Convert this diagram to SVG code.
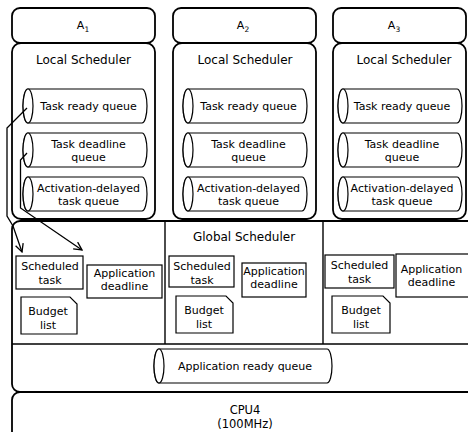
<svg xmlns="http://www.w3.org/2000/svg" width="468" height="432" viewBox="0 0 468 432">
<style>
.box{fill:#fff;stroke:#000;stroke-width:1.8}
.in{fill:#fff;stroke:#000;stroke-width:1.2}
.ln{fill:none;stroke:#000;stroke-width:1.4}
.cn{fill:none;stroke:#000;stroke-width:1.3}
text{font-family:"DejaVu Sans",Verdana,sans-serif;fill:#000;text-anchor:middle}
.h{font-size:12px}
.s{font-size:11px}
.c{font-size:11.5px}
.sub{font-size:7.5px}
</style>
<defs>
<g id="cyl">
<path d="M5,0 H119 A5,17 0 0 1 119,34 H5 A5,17 0 0 1 5,0 Z" class="in"/>
<ellipse cx="5" cy="17" rx="5" ry="17" class="in"/>
</g>
<marker id="arr" markerWidth="10" markerHeight="10" refX="9" refY="5" orient="auto" markerUnits="userSpaceOnUse">
<path d="M1,1 L9,5 L1,9" fill="none" stroke="#000" stroke-width="1.3"/>
</marker>
</defs>
<rect width="468" height="432" fill="#fff"/>

<g id="lower">
<rect class="box" x="12" y="221" width="466" height="171" rx="8"/>
<line class="ln" x1="165" y1="221" x2="165" y2="344"/>
<line class="ln" x1="323" y1="221" x2="323" y2="344"/>
<line class="ln" x1="12" y1="344" x2="468" y2="344"/>
</g>

<g id="cpu">
<rect class="box" x="12" y="392" width="466" height="50" rx="8"/>
<text class="c" x="245" y="414">CPU4</text>
<text class="c" x="245" y="428">(100MHz)</text>
</g>

<g id="A1">
<rect class="box" x="12" y="8" width="143" height="35" rx="8"/>
<text class="s" x="83" y="29">A<tspan class="sub" dy="3">1</tspan></text>
<rect class="box" x="12" y="43" width="143" height="176" rx="9"/>
<text class="h" x="83.5" y="64">Local Scheduler</text>
<use href="#cyl" x="23" y="89"/>
<text class="s" x="88.5" y="110">Task ready queue</text>
<use href="#cyl" x="23" y="133"/>
<text class="s" x="88.5" y="148">Task deadline</text>
<text class="s" x="88.5" y="161">queue</text>
<use href="#cyl" x="23" y="177"/>
<text class="s" x="88.5" y="192">Activation-delayed</text>
<text class="s" x="88.5" y="205">task queue</text>
</g>

<g id="A2">
<rect class="box" x="173" y="8" width="143" height="35" rx="8"/>
<text class="s" x="243" y="29">A<tspan class="sub" dy="3">2</tspan></text>
<rect class="box" x="173" y="43" width="143" height="176" rx="9"/>
<text class="h" x="245" y="64">Local Scheduler</text>
<use href="#cyl" x="183" y="89"/>
<text class="s" x="248.5" y="110">Task ready queue</text>
<use href="#cyl" x="183" y="133"/>
<text class="s" x="248.5" y="148">Task deadline</text>
<text class="s" x="248.5" y="161">queue</text>
<use href="#cyl" x="183" y="177"/>
<text class="s" x="248.5" y="192">Activation-delayed</text>
<text class="s" x="248.5" y="205">task queue</text>
</g>

<g id="A3">
<rect class="box" x="333" y="8" width="133" height="35" rx="8"/>
<text class="s" x="394" y="29">A<tspan class="sub" dy="3">3</tspan></text>
<rect class="box" x="333" y="43" width="133" height="176" rx="9"/>
<text class="h" x="404" y="64">Local Scheduler</text>
<use href="#cyl" x="338" y="89"/>
<text class="s" x="402" y="110">Task ready queue</text>
<use href="#cyl" x="338" y="133"/>
<text class="s" x="402" y="148">Task deadline</text>
<text class="s" x="402" y="161">queue</text>
<use href="#cyl" x="338" y="177"/>
<text class="s" x="402" y="192">Activation-delayed</text>
<text class="s" x="402" y="205">task queue</text>
</g>

<g id="global1">
<rect class="in" x="16" y="256" width="67" height="33"/>
<text class="s" x="50" y="270">Scheduled</text>
<text class="s" x="50" y="284">task</text>
<rect class="in" x="87" y="265" width="75" height="33"/>
<text class="s" x="124.5" y="277">Application</text>
<text class="s" x="124.5" y="290">deadline</text>
<path class="in" d="M21,297 H70 L77,304 V334 H21 Z"/>
<text class="s" x="48" y="315">Budget</text>
<text class="s" x="48" y="329">list</text>
</g>

<g id="global2">
<text class="h" x="244" y="241">Global Scheduler</text>
<rect class="in" x="169" y="256" width="65" height="31"/>
<text class="s" x="202" y="270">Scheduled</text>
<text class="s" x="202" y="284">task</text>
<rect class="in" x="242" y="263" width="64" height="34"/>
<text class="s" x="274" y="275">Application</text>
<text class="s" x="274" y="288">deadline</text>
<path class="in" d="M176,296 H226 L233,303 V333 H176 Z"/>
<text class="s" x="204" y="314">Budget</text>
<text class="s" x="204" y="328">list</text>
</g>

<g id="global3">
<rect class="in" x="325" y="255" width="69" height="33"/>
<text class="s" x="359.5" y="269">Scheduled</text>
<text class="s" x="359.5" y="283">task</text>
<rect class="in" x="396" y="254" width="80" height="43"/>
<text class="s" x="431.5" y="273">Application</text>
<text class="s" x="431.5" y="286">deadline</text>
<path class="in" d="M332,296 H383 L390,303 V333 H332 Z"/>
<text class="s" x="361" y="314">Budget</text>
<text class="s" x="361" y="328">list</text>
</g>

<g id="appq">
<path class="in" d="M159,349 H327 A5,17 0 0 1 327,383 H159 A5,17 0 0 1 159,349 Z"/>
<ellipse class="in" cx="159" cy="366" rx="5" ry="17"/>
<text class="s" x="245" y="370">Application ready queue</text>
</g>

<g id="connectors">
<polyline class="cn" points="27,108 7,128 7,216 13,226 22,252" marker-end="url(#arr)"/>
<polyline class="cn" points="27,153 20.5,160 20.5,208 82,250" marker-end="url(#arr)"/>
</g>
</svg>
